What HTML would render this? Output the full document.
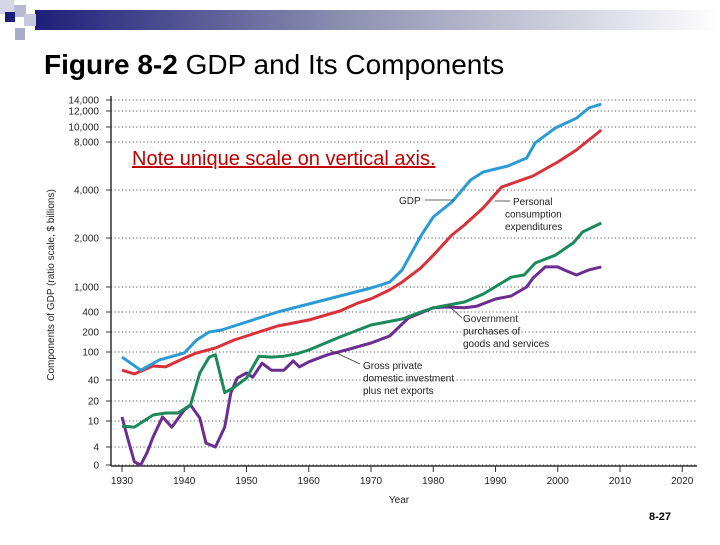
<!DOCTYPE html>
<html><head><meta charset="utf-8">
<style>
body{margin:0;background:#fff;width:720px;height:540px;overflow:hidden;font-family:"Liberation Sans",sans-serif}
</style></head>
<body>
<svg width="720" height="540" viewBox="0 0 720 540" xmlns="http://www.w3.org/2000/svg">
<defs>
<linearGradient id="hg" x1="0" x2="1" y1="0" y2="0">
<stop offset="0" stop-color="#1c1f78"/><stop offset="0.45" stop-color="#8d8fb0"/><stop offset="1" stop-color="#ffffff"/>
</linearGradient>
</defs>
<g>
<rect x="35" y="10" width="685" height="20" fill="url(#hg)"/>
<rect x="0" y="0" width="14" height="14" fill="#d6d6e6"/>
<rect x="14" y="5" width="12" height="12" fill="#b8b8d4"/>
<rect x="5" y="12" width="10" height="10" fill="#1c1f78"/>
<rect x="24" y="14" width="12" height="12" fill="#c8c8dc"/>
<rect x="15" y="28" width="10" height="12" fill="#a9a9c8"/>
</g>
<text x="44" y="74" font-size="28" fill="#000"><tspan font-weight="bold">Figure 8-2</tspan>  GDP and Its Components</text>
<g id="chart"></g>
<text x="132" y="165" font-size="20" fill="#c00000" text-decoration="underline">Note unique scale on vertical axis.</text>
<text x="649" y="520" font-size="11" font-weight="bold" fill="#000">8-27</text>
</svg>
<script>
const tickVals=[0,4,10,20,40,100,200,400,1000,2000,4000,8000,10000,12000,14000];
const tickLabels=["0","4","10","20","40","100","200","400","1,000","2,000","4,000","8,000","10,000","12,000","14,000"];
const tickPix=[465,447,421,401,380,352,332,312,287,238,190,142,127,111,100];
const xTicks=[1930,1940,1950,1960,1970,1980,1990,2000,2010,2020];
const gdpYears=[1930,1933,1936,1940,1942,1944,1946,1950,1955,1960,1965,1970,1973,1975,1978,1980,1983,1986,1988,1992,1995,1996.4,1999.6,2003,2005,2007];
const gdpVals=[89,61,83,98,160,200,220,300,400,592,784,976,1100,1347,2080,2875,3500,4830,5500,6000,6670,7930,9870,11100,12550,13270];
const pceYears=[1930,1932,1935,1937,1940,1942,1945,1948,1950,1955,1960,1965,1968,1970,1973,1975,1978,1980,1983,1985,1988,1991,1996,2000,2003,2007];
const pceVals=[61,53,70,68,87,98,120,160,180,260,320,424,620,717,930,1100,1390,1650,2125,2540,3250,4250,5170,6330,7330,9600];
const govYears=[1930,1932,1935,1937,1939,1941,1942.5,1944,1945,1946.5,1948,1950,1952,1954,1956,1958,1960,1965,1970,1975,1978,1980,1985,1988,1992.5,1994.6,1996.4,1999.6,2002.5,2004,2007];
const govVals=[8.8,8.6,13,14,14,18,55,89,94,28,33,44,91,89,91,96,110,175,270,330,400,500,640,830,1200,1245,1490,1650,1900,2250,2625];
const invYears=[1930,1931,1932,1933,1934,1935,1936.5,1938,1940,1941,1942.5,1943.5,1945,1946.5,1947.5,1948.5,1950,1951,1952.5,1954,1956,1957.5,1958.5,1960,1963,1966,1970,1973,1976,1978,1980,1982,1985,1987,1990,1992.5,1995,1996,1998,2000,2001,2003,2005,2007];
const invVals=[12,5.6,0.7,0,2.7,6.3,12,8.6,15.5,18,11.5,4.9,4,8.6,28,44,55,46,76,61,61,81,68,79,94,110,145,180,340,390,500,520,500,540,712,784,1000,1180,1410,1410,1350,1245,1350,1410];

function xs(yr){return 122+(yr-1930)*(620-122)/80;}
function ys(v){
  for(let i=0;i<tickVals.length-1;i++){
    if(v<=tickVals[i+1]){const t=(v-tickVals[i])/(tickVals[i+1]-tickVals[i]);return tickPix[i]+t*(tickPix[i+1]-tickPix[i]);}
  }
  return tickPix[tickPix.length-1];
}
const NS="http://www.w3.org/2000/svg";
const g=document.getElementById('chart');
function mk(tag,attrs,parent){const e=document.createElementNS(NS,tag);for(const k in attrs)e.setAttribute(k,attrs[k]);(parent||g).appendChild(e);return e;}

tickVals.forEach((v,i)=>{
  const y=ys(v);
  const gl=mk('line',{x1:111,x2:697,y1:y,y2:y,stroke:'#555','stroke-width':1,'stroke-dasharray':'1.2,2.4'});
  
  
  const tk=mk('line',{x1:106,x2:111,y1:y,y2:y,stroke:'#333','stroke-width':1});
  
  
  const t=mk('text',{x:99,y:y+3.5,'font-size':10,'text-anchor':'end',fill:'#222'});
  t.textContent=tickLabels[i];
  
  
});
const ya=mk('line',{x1:111,x2:111,y1:96,y2:466,stroke:'#333','stroke-width':1.5});


const xa=mk('line',{x1:111,x2:697,y1:466,y2:466,stroke:'#333','stroke-width':1.5});


xTicks.forEach(yr=>{
  const x=xs(yr);
  const tk=mk('line',{x1:x,x2:x,y1:466,y2:472,stroke:'#333','stroke-width':1});
  
  
  const t=mk('text',{x:x,y:484,'font-size':10,'text-anchor':'middle',fill:'#222'});
  t.textContent=yr;
  
  
});
const xt=mk('text',{x:399,y:503,'font-size':10,'text-anchor':'middle',fill:'#222'});
xt.textContent='Year';


const yt=mk('text',{x:0,y:0,'font-size':10,'text-anchor':'middle',fill:'#222',transform:'translate(54,285) rotate(-90)'});
yt.textContent='Components of GDP (ratio scale, $ billions)';



function series(years,vals,color,name){
  const d=years.map((yr,i)=>(i?'L':'M')+xs(yr).toFixed(1)+','+ys(vals[i]).toFixed(1)).join(' ');
  const p=mk('path',{d:d,fill:'none',stroke:color,'stroke-width':3,'stroke-linejoin':'round'});
  
  
}
series(invYears,invVals,'#6b2d8f','investment-line');
series(govYears,govVals,'#1a8a5a','government-line');
series(pceYears,pceVals,'#d9303a','consumption-line');
series(gdpYears,gdpVals,'#2a9bd4','gdp-line');

function label(lines,x,y,name,firstX){
  const t=mk('text',{x:x,y:y,'font-size':10,fill:'#222'});
  lines.forEach((s,i)=>{const ts=mk('tspan',{x:(i===0&&firstX)?firstX:x,dy:i?12.5:0},t);ts.textContent=s;});
  
  
}
function leader(x1,y1,x2,y2,name){
  const l=mk('line',{x1:x1,y1:y1,x2:x2,y2:y2,stroke:'#333','stroke-width':0.8});
  
  
}
label(['GDP'],399,204,'gdp-label'); leader(425,200,454,200,'gdp-leader');
label(['Personal','consumption','expenditures'],505,205,'consumption-label',513); leader(495,201,510,201,'consumption-leader');
label(['Government','purchases of','goods and services'],463,322,'government-label'); leader(448,305,462,318,'government-leader');
label(['Gross private','domestic investment','plus net exports'],363,369,'investment-label'); leader(330,350,360,364,'investment-leader');
</script>
</body></html>
